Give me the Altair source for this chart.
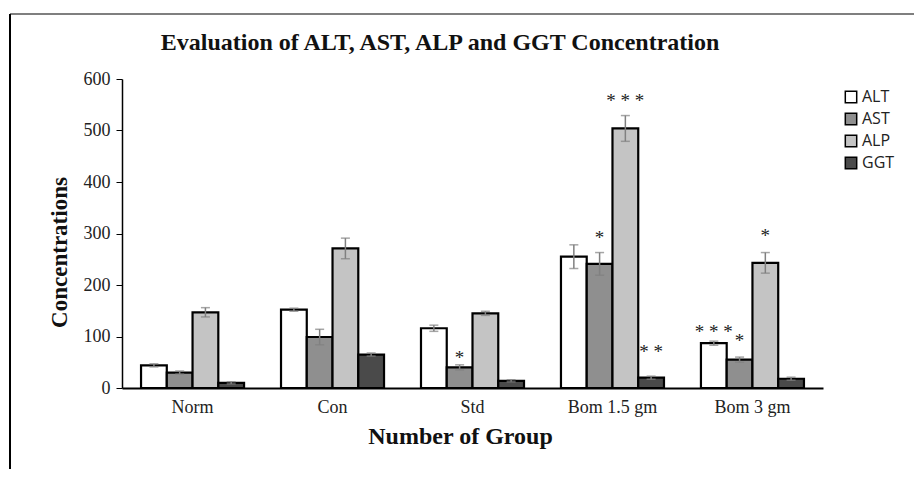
import altair as alt
import pandas as pd

groups = ["Norm", "Con", "Std", "Bom 1.5 gm", "Bom 3 gm"]
series = ["ALT", "AST", "ALP", "GGT"]

alt_vals = [44, 152, 116, 255, 87]
ast_vals = [30, 99, 40, 241, 55]
alp_vals = [147, 271, 145, 504, 243]
ggt_vals = [10, 65, 14, 20, 18]

alt_err = [3, 3, 6, 23, 4]
ast_err = [3, 15, 5, 22, 5]
alp_err = [9, 20, 4, 25, 20]
ggt_err = [2, 3, 2, 3, 3]

star_group = ["Std", "Bom 1.5 gm", "Bom 1.5 gm", "Bom 1.5 gm", "Bom 3 gm", "Bom 3 gm", "Bom 3 gm"]
star_series = ["AST", "AST", "ALP", "GGT", "ALT", "AST", "ALP"]
star_label = ["*", "*", "* * *", "* *", "* * *", "*", "*"]
star_pos = [66, 300, 565, 78, 116, 99, 302]

title_text = "Evaluation of ALT, AST, ALP and GGT Concentration"

fills = ["#ffffff", "#8f8f8f", "#c4c4c4", "#4a4a4a"]

rows = []
vals = {"ALT": alt_vals, "AST": ast_vals, "ALP": alp_vals, "GGT": ggt_vals}
errs = {"ALT": alt_err, "AST": ast_err, "ALP": alp_err, "GGT": ggt_err}
for s in series:
    for i, g in enumerate(groups):
        v = vals[s][i]
        e = errs[s][i]
        rows.append({"group": g, "series": s, "value": v, "lo": v - e, "hi": v + e})
df = pd.DataFrame(rows)

stars = pd.DataFrame({"group": star_group, "series": star_series,
                      "label": star_label, "pos": star_pos})

serif = "Liberation Serif"

x_enc = alt.X("group:N", sort=groups,
              scale=alt.Scale(paddingInner=0.264, paddingOuter=0.136),
              axis=alt.Axis(title="Number of Group", labelAngle=0, ticks=False,
                            labelFont=serif, labelFontSize=18, labelColor="#222",
                            labelPadding=10, domainColor="black", domainWidth=2,
                            titleFont=serif, titleFontSize=24, titleFontWeight="bold",
                            titleColor="#111", titleX=338, titleAnchor="start",
                            titleAlign="center", titleY=48, titleBaseline="middle"))
xo_enc = alt.XOffset("series:N", sort=series,
                     scale=alt.Scale(domain=series, paddingInner=0, paddingOuter=0))
y_scale = alt.Scale(domain=[0, 600])

base = alt.Chart(df)

bars = base.mark_bar(stroke="black", strokeWidth=2.2).encode(
    x=x_enc,
    xOffset=xo_enc,
    y=alt.Y("value:Q", scale=y_scale,
            axis=alt.Axis(title="Concentrations", values=[0, 100, 200, 300, 400, 500, 600],
                          grid=False, labelFont=serif, labelFontSize=18, labelColor="#222",
                          labelPadding=6, tickColor="black", tickSize=6, domainColor="black",
                          domainWidth=1.5, titleFont=serif, titleFontSize=23,
                          titleFontWeight="bold", titleColor="#111", titleAngle=270,
                          titleX=-63, titleY=173, titleAlign="center",
                          titleBaseline="middle")),
    color=alt.Color("series:N", sort=series,
                    scale=alt.Scale(domain=series, range=fills),
                    legend=alt.Legend(title=None, orient="none", legendX=721, legendY=10,
                                      symbolType="square", symbolSize=130,
                                      symbolStrokeColor="black", symbolStrokeWidth=1.5,
                                      labelFont="Open Sans", labelFontSize=16,
                                      labelColor="#222", rowPadding=4, labelOffset=3)),
)

err_rule = base.mark_rule(color="#808080", strokeWidth=1.5).encode(
    x=alt.X("group:N", sort=groups), xOffset=xo_enc,
    y=alt.Y("lo:Q", scale=y_scale), y2="hi:Q")
cap_hi = base.mark_tick(color="#808080", size=9, thickness=1.5).encode(
    x=alt.X("group:N", sort=groups), xOffset=xo_enc,
    y=alt.Y("hi:Q", scale=y_scale))
cap_lo = base.mark_tick(color="#808080", size=9, thickness=1.5).encode(
    x=alt.X("group:N", sort=groups), xOffset=xo_enc,
    y=alt.Y("lo:Q", scale=y_scale))

star_text = alt.Chart(stars).mark_text(font=serif, fontSize=19, color="#222",
                                       baseline="middle", dy=4).encode(
    x=alt.X("group:N", sort=groups), xOffset=xo_enc,
    y=alt.Y("pos:Q", scale=y_scale), text="label:N")

one = pd.DataFrame({"a": [0]})
title_mark = alt.Chart(one).mark_text(font=serif, fontSize=24, fontWeight="bold",
                                      color="#111", align="center",
                                      baseline="middle").encode(
    x=alt.value(318), y=alt.value(-36), text=alt.value(title_text))
frame_top = alt.Chart(one).mark_rule(color="#7f7f7f", strokeWidth=2).encode(
    x=alt.value(-112), x2=alt.value(800), y=alt.value(-65))
frame_left = alt.Chart(one).mark_rule(color="black", strokeWidth=2).encode(
    x=alt.value(-112), y=alt.value(-65), y2=alt.value(400))

chart = alt.layer(bars, err_rule, cap_hi, cap_lo, star_text, title_mark,
                  frame_top, frame_left).properties(
    width=701, height=309,
    autosize=alt.AutoSizeParams(type="none"),
    padding={"left": 114, "top": 71, "right": 91, "bottom": 81},
).configure_view(stroke=None)

chart.save("out.html", embed_options={"renderer": "svg", "actions": False})
